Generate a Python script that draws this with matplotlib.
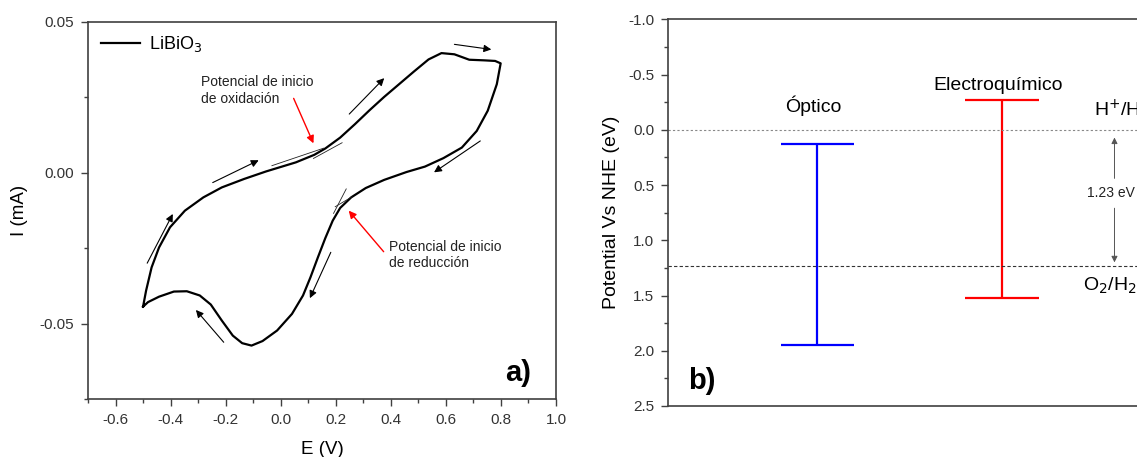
import matplotlib.pyplot as plt
import numpy as np
from matplotlib.ticker import MultipleLocator, FormatStrFormatter

plt.rcParams['font.family'] = ['Liberation Sans', 'DejaVu Sans']

# --- panel a: cyclic voltammogram of LiBiO3 ---
E_fwd = [-0.50, -0.489, -0.469, -0.442, -0.402, -0.348, -0.281, -0.214, -0.133,
         -0.053, 0.001, 0.055, 0.122, 0.162, 0.216, 0.269, 0.323, 0.376, 0.430,
         0.484, 0.537, 0.584, 0.631, 0.685, 0.739, 0.779, 0.799]
I_fwd = [-0.0444, -0.0391, -0.0314, -0.0248, -0.0181, -0.0126, -0.0082, -0.0049,
         -0.0021, 0.0004, 0.0019, 0.0034, 0.0059, 0.0080, 0.0116, 0.0160, 0.0207,
         0.0251, 0.0293, 0.0335, 0.0375, 0.0396, 0.0392, 0.0374, 0.0372, 0.0370,
         0.0362]
E_rev = [0.799, 0.785, 0.752, 0.712, 0.658, 0.591, 0.524, 0.457, 0.376, 0.309,
         0.256, 0.216, 0.189, 0.162, 0.135, 0.108, 0.081, 0.041, -0.013, -0.066,
         -0.106, -0.140, -0.174, -0.214, -0.254, -0.294, -0.341, -0.388, -0.442,
         -0.482, -0.50]
I_rev = [0.0362, 0.0293, 0.0205, 0.0138, 0.0083, 0.0048, 0.0020, 0.0002, -0.0024,
         -0.0051, -0.0082, -0.0117, -0.0159, -0.0217, -0.0281, -0.0347, -0.0407,
         -0.0468, -0.0523, -0.0558, -0.0573, -0.0565, -0.0540, -0.0490, -0.0437,
         -0.0407, -0.0393, -0.0394, -0.0411, -0.0429, -0.0444]

# scan direction arrows: (E_tail, I_tail, E_head, I_head)
scan_arrows = [(-0.485, -0.0300, -0.392, -0.0137),
               (-0.247, -0.0033, -0.080, 0.0041),
               (0.249, 0.0194, 0.376, 0.0313),
               (0.631, 0.0425, 0.765, 0.0408),
               (0.725, 0.0105, 0.557, 0.0001),
               (0.182, -0.0264, 0.106, -0.0416),
               (-0.207, -0.0562, -0.308, -0.0455)]

# onset tangent lines
tangents = [(-0.032, 0.0023, 0.156, 0.0081),
            (0.119, 0.0047, 0.223, 0.0099),
            (0.238, -0.0054, 0.192, -0.0135),
            (0.198, -0.0113, 0.259, -0.0080)]

# --- panel b: band edges vs NHE ---
methods = ['Óptico', 'Electroquímico']
method_x = [1, 2]
band_top = [0.13, -0.27]
band_bottom = [1.95, 1.52]
band_colors = ['#0000ff', '#ff0000']
label_y = [-0.22, -0.40]
redox_levels = [0.0, 1.23]

fig = plt.figure(figsize=(11.37, 4.57), dpi=100)
ax1 = fig.add_axes([0.0774, 0.1269, 0.4116, 0.8256])
ax2 = fig.add_axes([0.5875, 0.1116, 0.4503, 0.8462])

spine_c = '#404040'
tick_c = '#333333'

ax1.plot(E_fwd + E_rev[1:], I_fwd + I_rev[1:], color='black', lw=1.6,
         label='LiBiO$_3$')
for e0, i0, e1, i1 in scan_arrows:
    ax1.annotate('', xy=(e1, i1), xytext=(e0, i0),
                 arrowprops=dict(arrowstyle='-|>', lw=0.8, color='black',
                                 mutation_scale=11, shrinkA=0, shrinkB=0))
for e0, i0, e1, i1 in tangents:
    ax1.plot([e0, e1], [i0, i1], color='#222222', lw=0.6)

ax1.annotate('', xy=(0.119, 0.0097), xytext=(0.047, 0.0246),
             arrowprops=dict(arrowstyle='-|>', lw=1.0, color='red',
                             mutation_scale=11, shrinkA=0, shrinkB=0))
ax1.annotate('', xy=(0.247, -0.0126), xytext=(0.374, -0.0262),
             arrowprops=dict(arrowstyle='-|>', lw=1.0, color='red',
                             mutation_scale=11, shrinkA=0, shrinkB=0))
ax1.text(-0.290, 0.0323, 'Potencial de inicio\nde oxidación', fontsize=10,
         va='top', ha='left', color='#222222', linespacing=1.25)
ax1.text(0.395, -0.0222, 'Potencial de inicio\nde reducción', fontsize=10,
         va='top', ha='left', color='#222222', linespacing=1.25)

ax1.set_xlim(-0.7, 1.0)
ax1.set_ylim(-0.075, 0.05)
ax1.xaxis.set_major_locator(MultipleLocator(0.2))
ax1.xaxis.set_minor_locator(MultipleLocator(0.1))
ax1.yaxis.set_major_locator(MultipleLocator(0.05))
ax1.yaxis.set_minor_locator(MultipleLocator(0.025))
ax1.xaxis.set_major_formatter(FormatStrFormatter('%.1f'))
ax1.yaxis.set_major_formatter(FormatStrFormatter('%.2f'))
ax1.set_xlabel('E (V)', fontsize=13.5, labelpad=10)
ax1.set_ylabel('I (mA)', fontsize=13.5, labelpad=8)
leg = ax1.legend(loc='upper left', frameon=False, fontsize=13, handlelength=2.2,
                 handletextpad=0.5, borderaxespad=0.3)
ax1.text(0.92, 0.07, 'a)', transform=ax1.transAxes, fontsize=21,
         fontweight='bold', ha='center', va='center')

for e, t, b, c in zip(method_x, band_top, band_bottom, band_colors):
    ax2.vlines(e, t, b, color=c, lw=1.6)
    ax2.hlines([t, b], e - 0.2, e + 0.2, color=c, lw=1.6)
for e, ly, name in zip(method_x, label_y, methods):
    ax2.text(e - 0.02, ly, name, fontsize=14, ha='center', va='center')

ax2.axhline(redox_levels[0], color='#888888', lw=0.8, ls=(0, (2, 2)))
ax2.axhline(redox_levels[1], color='#333333', lw=0.8, ls=(0, (3, 2)))
ax2.annotate('', xy=(2.61, 0.07), xytext=(2.61, 0.44),
             arrowprops=dict(arrowstyle='-|>', lw=0.7, color='#555555',
                             mutation_scale=9, shrinkA=0, shrinkB=0))
ax2.annotate('', xy=(2.61, 1.20), xytext=(2.61, 0.71),
             arrowprops=dict(arrowstyle='-|>', lw=0.7, color='#555555',
                             mutation_scale=9, shrinkA=0, shrinkB=0))
ax2.text(2.46, 0.57, '1.23 eV', fontsize=10, ha='left', va='center',
         color='#222222')
ax2.text(2.50, -0.18, 'H$^{+}$/H$_2$', fontsize=14, ha='left', va='center')
ax2.text(2.44, 1.41, 'O$_2$/H$_2$O', fontsize=14, ha='left', va='center')
ax2.text(0.30, 2.27, 'b)', fontsize=21, fontweight='bold', ha='left',
         va='center')

ax2.set_xlim(0.19, 2.965)
ax2.set_ylim(2.5, -1.0)
ax2.yaxis.set_major_locator(MultipleLocator(0.5))
ax2.yaxis.set_minor_locator(MultipleLocator(0.25))
ax2.yaxis.set_major_formatter(FormatStrFormatter('%.1f'))
ax2.set_xticks([])
ax2.set_ylabel('Potential Vs NHE (eV)', fontsize=14, labelpad=6)

for ax in (ax1, ax2):
    for s in ax.spines.values():
        s.set_color(spine_c)
        s.set_linewidth(1.2)
    ax.tick_params(which='major', direction='out', length=5, width=1,
                   color=spine_c, labelcolor=tick_c, labelsize=11, pad=5)
    ax.tick_params(which='minor', direction='out', length=3, width=1,
                   color=spine_c)
    ax.tick_params(top=False, right=False, which='both')

fig.savefig('out.png', dpi=100)
